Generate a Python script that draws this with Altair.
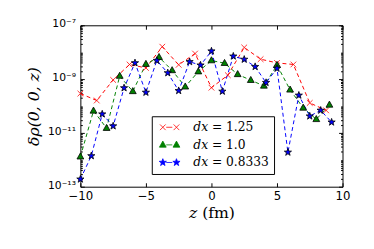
import altair as alt
import pandas as pd
import math

# ---- data ----
series_names = ["𝑑𝑥 = 1.25", "𝑑𝑥 = 1.0", "𝑑𝑥 = 0.8333"]

z_red = [-10, -8.75, -7.5, -6.25, -5, -3.75, -2.5, -1.25, 0, 1.25, 2.5, 3.75, 5, 6.25, 7.5, 8.75]
v_red = [2.9e-10, 1.6e-10, 9.3e-10, 3.5e-9, 2.6e-9, 1.6e-8, 3.4e-9, 8.9e-9, 4.8e-10, 1.4e-9,
         1.5e-8, 5.5e-9, 4.0e-9, 3.5e-9, 1.3e-10, 6.9e-11]

z_green = [-10, -9, -8, -7, -6, -5, -4, -3, -2, -1, 0, 1, 2, 3, 4, 5, 6, 7, 8, 9]
v_green = [1.3e-12, 6.6e-11, 1.5e-11, 1.3e-9, 3.5e-10, 3.6e-9, 6.5e-9, 2.1e-9, 5.2e-10, 1.9e-9,
           4.9e-9, 3.9e-9, 1.5e-9, 9.1e-10, 5.6e-10, 3.3e-9, 4.0e-10, 8.5e-11, 3.2e-11, 1.1e-10]

z_blue = [-10, -9.1667, -8.3333, -7.5, -6.6667, -5.8333, -5, -4.1667, -3.3333, -2.5, -1.6667, -0.8333,
          0, 0.8333, 1.6667, 2.5, 3.3333, 4.1667, 5, 5.8333, 6.6667, 7.5, 8.3333, 9.1667]
v_blue = [1.9e-13, 1.4e-12, 5.0e-11, 1.8e-11, 4.7e-10, 4.0e-9, 3.2e-10, 4.9e-9, 1.7e-9, 3.7e-10,
          4.4e-9, 3.3e-9, 1.1e-8, 3.5e-10, 7.1e-9, 5.4e-9, 2.9e-9, 7.4e-10, 2.5e-9, 1.9e-12,
          2.5e-10, 4.2e-11, 6.9e-11, 2.5e-11]

x_ticks = [-10, -5, 0, 5, 10]
y_major = [1e-13, 1e-11, 1e-9, 1e-7]
y_labels = ["10⁻¹³", "10⁻¹¹", "10⁻⁹", "10⁻⁷"]
y_minor = [m * 10.0 ** e for e in range(-13, -7) for m in range(2, 10)] + [1e-12, 1e-10, 1e-8]

colors = ["#ff0000", "#008000", "#0000ff"]

# ---- marker paths (styles) ----
def star_path(cx=0.0, r_in=0.4):
    pts = []
    for k in range(10):
        ang = math.radians(-90 + 36 * k)
        r = 1.0 if k % 2 == 0 else r_in
        pts.append((cx + r * math.cos(ang), r * math.sin(ang)))
    return "M" + "L".join(f"{x:.3f},{y:.3f}" for x, y in pts) + "Z"

def tri_path(cx=0.0):
    return f"M{cx:.3f},-1L{cx+0.9:.3f},0.6L{cx-0.9:.3f},0.6Z"

def x_path(cx=0.0, a=0.75):
    return (f"M{cx-a:.3f},{-a}L{cx+a:.3f},{a}M{cx-a:.3f},{a}L{cx+a:.3f},{-a}")

dash = "M-0.9,0L0.7,0"
marker_paths = [x_path(), tri_path(), star_path()]
legend_paths = [x_path(-1.8) + dash + x_path(1.8), tri_path(-1.8) + dash + tri_path(1.8),
                star_path(-1.8) + dash + star_path(1.8)]
fills = ["transparent", "#008000", "#0000ff"]
edges = ["#ff0000", "#000000", "#000000"]

frames = []
for name, zs, vs in zip(series_names, [z_red, z_green, z_blue], [v_red, v_green, v_blue]):
    frames.append(pd.DataFrame({"z": zs, "v": vs, "series": name}))
df = pd.concat(frames, ignore_index=True)

xscale = alt.Scale(domain=[-10, 10], nice=False, zero=False)
yscale = alt.Scale(type="log", domain=[1e-13, 1e-7], nice=False)

base = alt.Chart(df)

layers = []
for i, name in enumerate(series_names):
    sub = base.transform_filter(alt.datum.series == name)
    layers.append(sub.mark_line(color=colors[i], strokeWidth=1, strokeDash=[4, 3]).encode(
        x=alt.X("z:Q", scale=xscale, axis=None),
        y=alt.Y("v:Q", scale=yscale, axis=None)))
for i, name in enumerate(series_names):
    sub = base.transform_filter(alt.datum.series == name)
    layers.append(sub.mark_point(shape=marker_paths[i], size=60, filled=True,
                                 fill=fills[i], stroke=edges[i], strokeWidth=0.8,
                                 opacity=1).encode(
        x=alt.X("z:Q", scale=xscale, axis=None),
        y=alt.Y("v:Q", scale=yscale, axis=None)))

label_expr = " : ".join(f"datum.value < {v*3:.0e} ? '{l}'" for v, l in zip(y_major[:-1], y_labels[:-1])) + f" : '{y_labels[-1]}'"

main_axes = base.mark_point(opacity=0).encode(
    x=alt.X("z:Q", scale=xscale, title="𝑧 (fm)",
            axis=alt.Axis(orient="bottom", values=x_ticks, tickSize=4, offset=-4, labelPadding=4,
                          labelFlush=False, labelOverlap=False,
                          domain=False, grid=False, labelFont="DejaVu Sans", labelFontSize=12,
                          titleFont="DejaVu Serif", titleFontSize=16, titleFontWeight="normal",
                          titlePadding=3, labelColor="black", tickColor="black", titleColor="black")),
    y=alt.Y("v:Q", scale=yscale, title="δρ(0, 0, 𝑧)",
            axis=alt.Axis(orient="left", values=y_major, tickSize=4, offset=-4, labelPadding=5,
                          labelFlush=False, labelOverlap=False, labelOffset=-1.5,
                          labelExpr=label_expr, domain=False, grid=False,
                          labelFont="DejaVu Sans", labelFontSize=11,
                          titleFont="DejaVu Serif", titleFontSize=16, titleFontWeight="normal",
                          titleFontStyle="italic",
                          titlePadding=6, labelColor="black", tickColor="black", titleColor="black")),
)

def tick_layer(xorient, yorient, yvals, size, with_x):
    xax = alt.Axis(orient=xorient, values=x_ticks, tickSize=size, offset=-size, labels=False,
                   domain=False, grid=False, title=None, tickColor="black") if with_x else None
    return base.mark_point(opacity=0).encode(
        x=alt.X("z:Q", scale=xscale, axis=xax),
        y=alt.Y("v:Q", scale=yscale,
                axis=alt.Axis(orient=yorient, values=yvals, tickSize=size, offset=-size,
                              labels=False, domain=False, grid=False, title=None,
                              tickColor="black")))

tickB = tick_layer("top", "right", y_major, 4, True)
tickC = tick_layer("top", "left", y_minor, 2, False)
tickD = tick_layer("top", "right", y_minor, 2, False)

leg = alt.Legend(title=None, orient="none", legendX=73, legendY=93, strokeColor="black",
                 fillColor="white", padding=5, cornerRadius=0, labelFont="DejaVu Serif",
                 labelFontSize=12.5, symbolSize=60, symbolStrokeWidth=0.8, symbolOffset=7,
                 labelOffset=18, rowPadding=5, labelColor="black")
legend_layer = base.transform_filter("false").mark_point(opacity=1, filled=True).encode(
    shape=alt.Shape("series:N", scale=alt.Scale(domain=series_names, range=legend_paths), legend=leg),
    fill=alt.Fill("series:N", scale=alt.Scale(domain=series_names, range=fills), legend=leg),
    stroke=alt.Stroke("series:N", scale=alt.Scale(domain=series_names, range=colors), legend=leg),
)

chart = alt.layer(*layers, main_axes, tickB, tickC, tickD, legend_layer).resolve_axis(
    x="independent", y="independent"
).properties(
    width=268, height=165,
    autosize=alt.AutoSizeParams(type="none"),
    padding={"left": 74, "top": 15, "right": 24, "bottom": 61},
).configure_view(stroke="black", strokeWidth=1)

chart.save("out.html", embed_options={"renderer": "svg", "actions": False})
